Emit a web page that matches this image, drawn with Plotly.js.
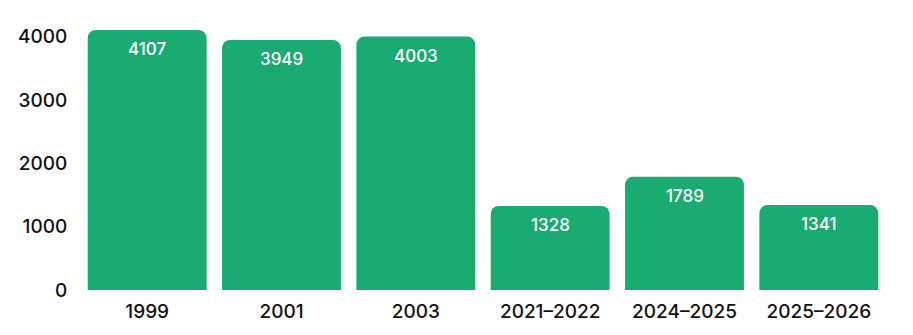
<!DOCTYPE html>
<html>
<head>
<meta charset="utf-8">
<script src="https://cdn.plot.ly/plotly-3.0.1.min.js"></script>
<style>html,body{margin:0;padding:0;background:#fff;}#chart{width:913px;height:335px;}</style>
</head>
<body>
<div id="chart"></div>
<script>
const categories = ["1999", "2001", "2003", "2021–2022", "2024–2025", "2025–2026"];
const values = [4107, 3949, 4003, 1328, 1789, 1341];
const yTicks = [0, 1000, 2000, 3000, 4000];

const barColor = "#1aab72";
const fontFamily = "Inter, 'Noto Sans', sans-serif";

const trace = {
  type: "bar",
  x: categories,
  y: values,
  marker: { color: barColor, cornerradius: 8 },
  hoverinfo: "none"
};

const annotations = categories.map((c, i) => ({
  x: i,
  y: values[i],
  xref: "x",
  yref: "y",
  text: String(values[i]),
  showarrow: false,
  yanchor: "top",
  yshift: -7,
  font: { family: fontFamily, size: 17, color: "#ffffff", weight: 500 }
}));

const layout = {
  width: 913,
  height: 335,
  margin: { l: 80, r: 27, t: 10, b: 45 },
  paper_bgcolor: "#ffffff",
  plot_bgcolor: "#ffffff",
  bargap: 0.115,
  showlegend: false,
  xaxis: {
    type: "category",
    range: [-0.5, categories.length - 0.5],
    showgrid: false,
    zeroline: false,
    showline: false,
    ticks: "outside",
    ticklen: 4,
    tickcolor: "rgba(0,0,0,0)",
    tickfont: { family: fontFamily, size: 19, color: "#111111", weight: 500 }
  },
  yaxis: {
    range: [0, 4423],
    tickvals: yTicks,
    ticktext: yTicks.map(String),
    showgrid: false,
    zeroline: false,
    showline: false,
    ticks: "outside",
    ticklen: 8,
    tickcolor: "rgba(0,0,0,0)",
    tickfont: { family: fontFamily, size: 19, color: "#111111", weight: 500 }
  },
  annotations: annotations
};

Plotly.newPlot("chart", [trace], layout, { displayModeBar: false, staticPlot: true });
</script>
</body>
</html>
